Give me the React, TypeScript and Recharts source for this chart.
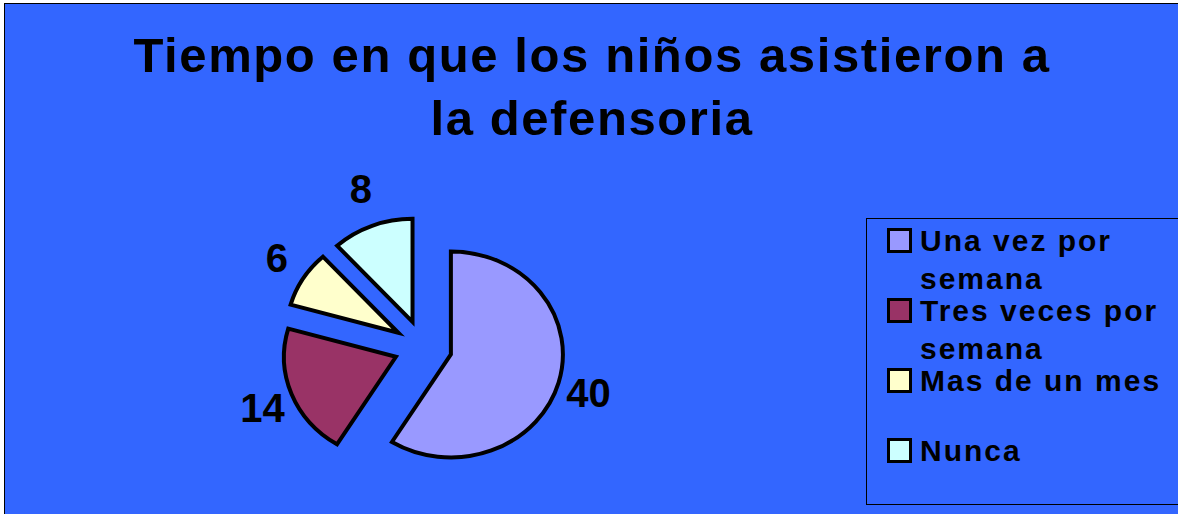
import React from "react";
import { PieChart, Pie, Cell, Legend } from "recharts";

const CATEGORIES = ["Una vez por semana", "Tres veces por semana", "Mas de un mes", "Nunca"];
const VALUES = [40, 14, 6, 8];
const COLORS = ["#9999FF", "#993366", "#FFFFCC", "#CCFFFF"];
const TITLE_LINES = ["Tiempo en que los niños asistieron a", "la defensoria"];

const data = CATEGORIES.map((name, i) => ({ name, value: VALUES[i] }));

const BG = "#3366FF";
const FONT = "'Liberation Sans', Arial, sans-serif";
const RAD = Math.PI / 180;

// the original pie is a little wider than tall
const RX = 112;
const RY = 103;
const EXPLODE_X = 29;
const EXPLODE_Y = 27;
const LABEL_RX = 172;
const LABEL_RY = 169;

function ExplodedSector(props: any) {
  const { cx, cy, startAngle, endAngle, fill } = props;
  const mid = props.midAngle ?? (startAngle + endAngle) / 2;
  const ox = cx + EXPLODE_X * Math.cos(-mid * RAD);
  const oy = cy + EXPLODE_Y * Math.sin(-mid * RAD);
  const pt = (a: number) => [ox + RX * Math.cos(-a * RAD), oy + RY * Math.sin(-a * RAD)];
  const [x1, y1] = pt(startAngle);
  const [x2, y2] = pt(endAngle);
  const large = Math.abs(endAngle - startAngle) > 180 ? 1 : 0;
  const sweep = startAngle > endAngle ? 1 : 0;
  const d = `M${ox},${oy} L${x1},${y1} A${RX},${RY} 0 ${large} ${sweep} ${x2},${y2} Z`;
  return <path d={d} fill={fill} stroke="#000" strokeWidth={4} strokeLinejoin="miter" />;
}

function renderLabel(props: any) {
  const { cx, cy, midAngle, value } = props;
  const x = cx + LABEL_RX * Math.cos(-midAngle * RAD);
  const y = cy + LABEL_RY * Math.sin(-midAngle * RAD);
  return (
    <text
      x={x}
      y={y}
      textAnchor="middle"
      dominantBaseline="central"
      fontFamily={FONT}
      fontWeight="bold"
      fontSize={40}
      fill="#000"
    >
      {value}
    </text>
  );
}

function renderLegend(props: any) {
  const payload: any[] = props.payload ?? [];
  const items = CATEGORIES.map((c, i) => {
    const p = payload.find((e) => e.value === c);
    return { label: c, color: p?.color ?? COLORS[i] };
  });
  return (
    <div
      style={{
        width: 330,
        height: 287,
        boxSizing: "border-box",
        border: "1px solid #000",
        paddingTop: 3,
        fontFamily: FONT,
        fontWeight: "bold",
        fontSize: 30,
        letterSpacing: 2,
        color: "#000",
      }}
    >
      {items.map((it) => (
        <div key={it.label} style={{ position: "relative", height: 70 }}>
          <div
            style={{
              position: "absolute",
              left: 20,
              top: 6,
              width: 19,
              height: 19,
              border: "3px solid #000",
              background: it.color,
            }}
          />
          <div
            style={{
              position: "absolute",
              left: 53,
              top: 0,
              width: 255,
              lineHeight: "38px",
              textAlign: "left",
              whiteSpace: "normal",
            }}
          >
            {it.label}
          </div>
        </div>
      ))}
    </div>
  );
}

export default function App() {
  return (
    <div
      style={{
        position: "fixed",
        left: 4,
        top: 3,
        width: 1180,
        height: 520,
        border: "1px solid #000",
        background: BG,
        overflow: "hidden",
      }}
    >
      <div
        style={{
          position: "absolute",
          left: 0,
          top: 20,
          width: 1174,
          textAlign: "center",
          fontFamily: FONT,
          fontWeight: "bold",
          fontSize: 49,
          lineHeight: "63px",
          letterSpacing: 1.6,
          color: "#000",
        }}
      >
        {TITLE_LINES.map((t) => (
          <div key={t}>{t}</div>
        ))}
      </div>
      <PieChart
        width={1180}
        height={520}
        margin={{ top: 0, right: 0, bottom: 0, left: 0 }}
        style={{ position: "absolute", left: 0, top: 0 }}
      >
        <Pie
          data={data}
          dataKey="value"
          nameKey="name"
          cx={418}
          cy={343}
          outerRadius={108}
          startAngle={90}
          endAngle={-270}
          shape={ExplodedSector}
          label={renderLabel}
          labelLine={false}
          isAnimationActive={false}
          stroke="#000"
          strokeWidth={4}
        >
          {data.map((d, i) => (
            <Cell key={d.name} fill={COLORS[i]} />
          ))}
        </Pie>
        <Legend
          layout="vertical"
          align="right"
          verticalAlign="top"
          content={renderLegend}
          wrapperStyle={{ position: "absolute", left: 861, top: 214, width: 330, height: 287 }}
        />
      </PieChart>
    </div>
  );
}
